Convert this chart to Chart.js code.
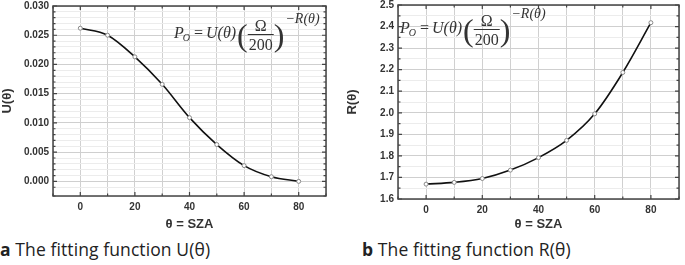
<!DOCTYPE html>
<html>
<head>
<meta charset="utf-8">
<script src="https://cdn.jsdelivr.net/npm/chart.js@4"></script>
<style>
  body { margin: 0; background: #fff; width: 685px; height: 265px; position: relative; overflow: hidden; }
  .box { position: absolute; top: 0; }
  .cap { position: absolute; top: 237px; font-family: "Open Sans", sans-serif; font-size: 17.5px; letter-spacing: 0.1px; color: #222; white-space: nowrap; }
  .cap b { font-weight: 700; }
</style>
</head>
<body>
<div class="box" style="left:0"><canvas id="chartU" width="340" height="232"></canvas></div>
<div class="box" style="left:345px"><canvas id="chartR" width="340" height="232"></canvas></div>
<div class="cap" style="left:0"><b>a</b> The fitting function U(θ)</div>
<div class="cap" style="left:362px"><b>b</b> The fitting function R(θ)</div>
<script>
// datos
const sza = [0, 10, 20, 30, 40, 50, 60, 70, 80];
const uValues = [0.0262, 0.0250, 0.0213, 0.0166, 0.0109, 0.0063, 0.0027, 0.0008, 0.0000];
const rValues = [1.669, 1.677, 1.695, 1.734, 1.792, 1.872, 1.995, 2.187, 2.418];
const xLabeled = [0, 20, 40, 60, 80];

const tickFont = { family: "Liberation Sans", size: 10, weight: "bold" };
const titleFont = { family: "Liberation Sans", size: 13, weight: "bold" };

function isMultiple(v, step) {
  const q = v / step;
  return Math.abs(q - Math.round(q)) < 1e-6;
}

// fórmula P_O = U(θ)(Ω/200)^-R(θ)
function drawFormula(ctx, x, y) {
  ctx.save();
  ctx.fillStyle = "#333";
  ctx.strokeStyle = "#333";
  ctx.textBaseline = "alphabetic";
  ctx.textAlign = "left";
  ctx.font = 'italic 16px "Liberation Serif"';
  ctx.fillText("P", x, y);
  x += ctx.measureText("P").width - 1;
  ctx.font = 'italic 10px "Liberation Serif"';
  ctx.fillText("O", x, y + 3);
  x += ctx.measureText("O").width + 4;
  ctx.font = '16px "Liberation Serif"';
  ctx.fillText("=", x, y);
  x += ctx.measureText("=").width + 3;
  ctx.font = 'italic 16px "Liberation Serif"';
  ctx.fillText("U(θ)", x, y);
  x += ctx.measureText("U(θ)").width + 1;
  ctx.font = '32px "Liberation Serif"';
  ctx.fillText("(", x, y + 8);
  x += ctx.measureText("(").width;
  ctx.font = '16px "Liberation Serif"';
  const w = ctx.measureText("200").width;
  ctx.textAlign = "center";
  ctx.fillText("Ω", x + w / 2 + 1, y - 7);
  ctx.fillText("200", x + w / 2 + 1, y + 12);
  ctx.lineWidth = 1;
  ctx.beginPath();
  ctx.moveTo(x, y - 3.5);
  ctx.lineTo(x + w + 2, y - 3.5);
  ctx.stroke();
  x += w + 2;
  ctx.textAlign = "left";
  ctx.font = '32px "Liberation Serif"';
  ctx.fillText(")", x, y + 8);
  x += ctx.measureText(")").width + 1;
  ctx.font = 'italic 14px "Liberation Serif"';
  ctx.fillText("−R(θ)", x, y - 15);
  ctx.restore();
}

// marco y marcas interiores
const framePlugin = {
  id: "frame",
  afterDraw(chart, args, opts) {
    const { ctx, chartArea: a } = chart;
    const xs = chart.scales.x, ys = chart.scales.y;
    ctx.save();
    ctx.strokeStyle = "#444";
    ctx.lineWidth = 1.2;
    xs.ticks.forEach((t) => {
      const px = xs.getPixelForValue(t.value);
      const len = isMultiple(t.value, 20) ? 4 : 2.5;
      ctx.beginPath();
      ctx.moveTo(px, a.bottom); ctx.lineTo(px, a.bottom - len);
      ctx.moveTo(px, a.top); ctx.lineTo(px, a.top + len);
      ctx.stroke();
    });
    ys.ticks.forEach((t) => {
      const py = ys.getPixelForValue(t.value);
      const len = isMultiple(t.value, opts.major) ? 4 : 2.5;
      ctx.beginPath();
      ctx.moveTo(a.left, py); ctx.lineTo(a.left + len, py);
      ctx.moveTo(a.right, py); ctx.lineTo(a.right - len, py);
      ctx.stroke();
    });
    ctx.lineWidth = 1.5;
    ctx.strokeRect(a.left, a.top, a.right - a.left, a.bottom - a.top);
    drawFormula(ctx, opts.fx, opts.fy);
    ctx.restore();
  },
};

function makeChart(id, values, yTitle, yMin, yMax, yStep, yMajor, decimals, area, formula) {
  const ctx = document.getElementById(id).getContext("2d");
  return new Chart(ctx, {
    type: "line",
    data: {
      datasets: [
        {
          data: sza.map((s, i) => ({ x: s, y: values[i] })),
          borderColor: "#111",
          borderWidth: 1.6,
          cubicInterpolationMode: "monotone",
          pointRadius: 2,
          pointBackgroundColor: "#fff",
          pointBorderColor: "#888",
          pointBorderWidth: 1,
        },
      ],
    },
    options: {
      responsive: false,
      animation: false,
      devicePixelRatio: 1,
      layout: { padding: { top: area.top, right: 340 - area.right, left: 0, bottom: 0 } },
      plugins: {
        legend: { display: false },
        tooltip: { enabled: false },
        frame: { major: yMajor, fx: formula.x, fy: formula.y },
      },
      scales: {
        x: {
          type: "linear",
          min: -10,
          max: 90,
          ticks: {
            stepSize: 10,
            font: tickFont,
            color: "#333",
            padding: 5,
            maxRotation: 0,
            autoSkip: false,
            callback: (v) => (xLabeled.includes(v) ? String(v) : ""),
          },
          grid: { color: "#d0d0d0", lineWidth: 1, drawTicks: false },
          border: { display: false },
          title: { display: true, text: "θ = SZA", font: titleFont, color: "#333", padding: { top: 8, bottom: 0 } },
          afterFit: (s) => { s.height = 232 - area.bottom; s.paddingLeft = 0; s.paddingRight = 0; },
        },
        y: {
          min: yMin,
          max: yMax,
          ticks: {
            stepSize: yStep,
            font: tickFont,
            color: "#333",
            padding: 4,
            autoSkip: false,
            callback: (v) => (isMultiple(v, yMajor) && v >= yMin - 1e-9 ? v.toFixed(decimals) : ""),
          },
          grid: {
            drawTicks: false,
            color: (c) => (c.tick && isMultiple(c.tick.value, yMajor) ? "#cfcfcf" : "#ececec"),
            lineWidth: 1,
          },
          border: { display: false },
          title: { display: true, text: yTitle, font: titleFont, color: "#333", padding: { top: 0, bottom: 0 } },
          afterFit: (s) => { s.width = area.left; s.paddingTop = 0; s.paddingBottom = 0; },
        },
      },
    },
    plugins: [framePlugin],
  });
}

makeChart("chartU", uValues, "U(θ)", -0.0025, 0.030, 0.001, 0.005, 3,
  { left: 53, right: 326, top: 6, bottom: 196 }, { x: 174, y: 38 });
makeChart("chartR", rValues, "R(θ)", 1.6, 2.5, 0.05, 0.1, 1,
  { left: 53, right: 334, top: 4, bottom: 199 }, { x: 55, y: 33 });
</script>
</body>
</html>
